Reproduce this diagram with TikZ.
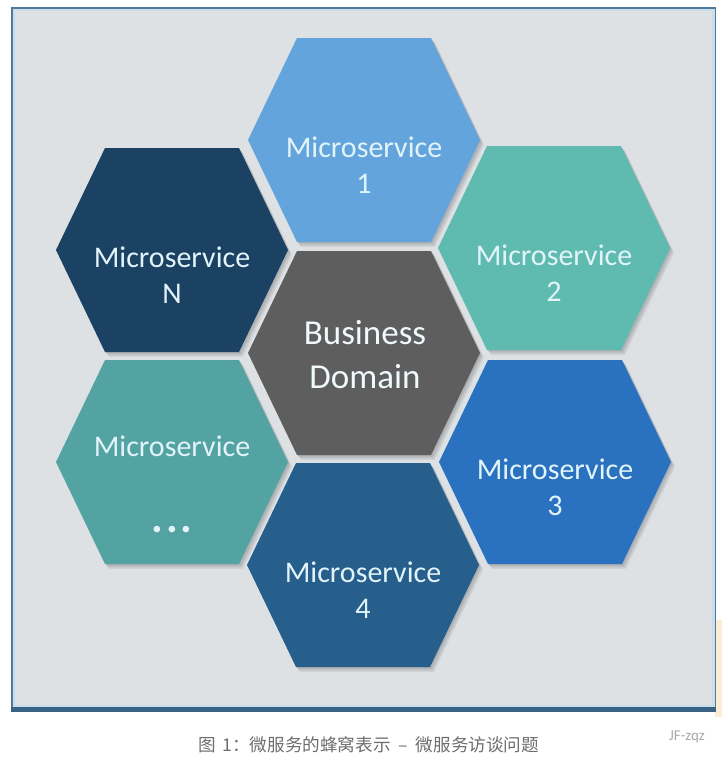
\documentclass[tikz,border=0pt]{standalone}
\usepackage{fontspec}
\setmainfont{Carlito}
\newfontfamily\cjk{Noto Sans CJK SC}
\usetikzlibrary{calc}

\definecolor{panelgrey}{HTML}{DDE1E4}
\definecolor{frameline}{HTML}{4F7A9B}
\definecolor{framelight}{HTML}{C9DDEA}
\definecolor{framebar}{HTML}{3A6283}
\definecolor{peach}{HTML}{FDEBD3}
\definecolor{msone}{HTML}{63A4DC}
\definecolor{mstwo}{HTML}{5FBBB0}
\definecolor{msthree}{HTML}{2A72C0}
\definecolor{msfour}{HTML}{265E8C}
\definecolor{msn}{HTML}{1B4262}
\definecolor{msdots}{HTML}{54A3A3}
\definecolor{bdgrey}{HTML}{5E5E5E}
\definecolor{celltext}{HTML}{E2F4FA}
\definecolor{captiongrey}{HTML}{6E6E6E}
\definecolor{markgrey}{HTML}{A8A8A8}

\tikzset{
  hexcell/.style={fill=#1},
  hexshade/.style={fill=black, fill opacity=0.06},
  mslabel/.style={text=celltext, font=\fontsize{30}{36}\selectfont,
    align=center, inner sep=0pt},
  bdlabel/.style={text=celltext!50!white, font=\fontsize{35}{44}\selectfont,
    align=center, inner sep=0pt},
}

% one flat-topped cell, drawn round a named centre
\newcommand\hexpath{(-116,0) -- (-67,-102) -- (67,-102) -- (116,0) -- (67,102) -- (-67,102) -- cycle}

\begin{document}
\begin{tikzpicture}[x=1pt, y=-1pt]
\useasboundingbox (0,0) rectangle (728,766);
\fill[white] (0,0) rectangle (728,766);

% framed panel
\fill[peach] (715,620) rectangle (722,717);
\fill[frameline] (11,7) rectangle (716,712);
\fill[framelight] (12.5,8.5) rectangle (714.5,707);
\fill[panelgrey] (15,11) rectangle (711.5,704.5);
\fill[framebar] (11,707) rectangle (716,712);

% cell centres
\coordinate (bd)   at (364,353);
\coordinate (ms1)  at (364,140);
\coordinate (ms2)  at (554,248);
\coordinate (ms3)  at (555,462);
\coordinate (ms4)  at (363,565);
\coordinate (msdd) at (172,462);
\coordinate (msN)  at (172,250);

% soft shadows under the cells
\foreach \c in {bd,ms1,ms2,ms3,ms4,msdd,msN}{
  \foreach \d in {1,2,3,4}{
    \fill[hexshade, shift={(\c)}, shift={(\d,1.2*\d)}] \hexpath;
  }
}

% cells
\foreach \c/\col in {bd/bdgrey, ms1/msone, ms2/mstwo, ms3/msthree,
                     ms4/msfour, msdd/msdots, msN/msn}{
  \fill[hexcell=\col, shift={(\c)}] \hexpath;
}

% labels
\node[bdlabel] (tbd) at ($(bd)+(1,2)$) {Business\\Domain};
\node[mslabel] (t1) at ($(ms1)+(0,25)$) {Microservice\\1};
\node[mslabel] (t2) at ($(ms2)+(0,25)$) {Microservice\\2};
\node[mslabel] (t3) at ($(ms3)+(0,25)$) {Microservice\\3};
\node[mslabel] (t4) at ($(ms4)+(0,25)$) {Microservice\\4};
\node[mslabel] (tN) at ($(msN)+(0,25)$) {Microservice\\N};
\node[mslabel] (tdd) at ($(msdd)+(0,-16)$) {Microservice};
\node[mslabel, font=\fontsize{44}{46}\selectfont\bfseries] (tdots)
  at ($(msdd)+(0,68)$) {.\hspace{3pt}.\hspace{3pt}.};

% caption and mark
\node[text=captiongrey, font=\cjk\fontsize{17.6}{20}\selectfont, inner sep=0pt]
  (caption) at (369,745) {图\hspace{6pt}1：微服务的蜂窝表示 \ – \ 微服务访谈问题};
\node[text=markgrey, font=\fontsize{15}{16}\selectfont, inner sep=0pt]
  (mark) at (687,737) {JF-zqz};
\end{tikzpicture}
\end{document}
